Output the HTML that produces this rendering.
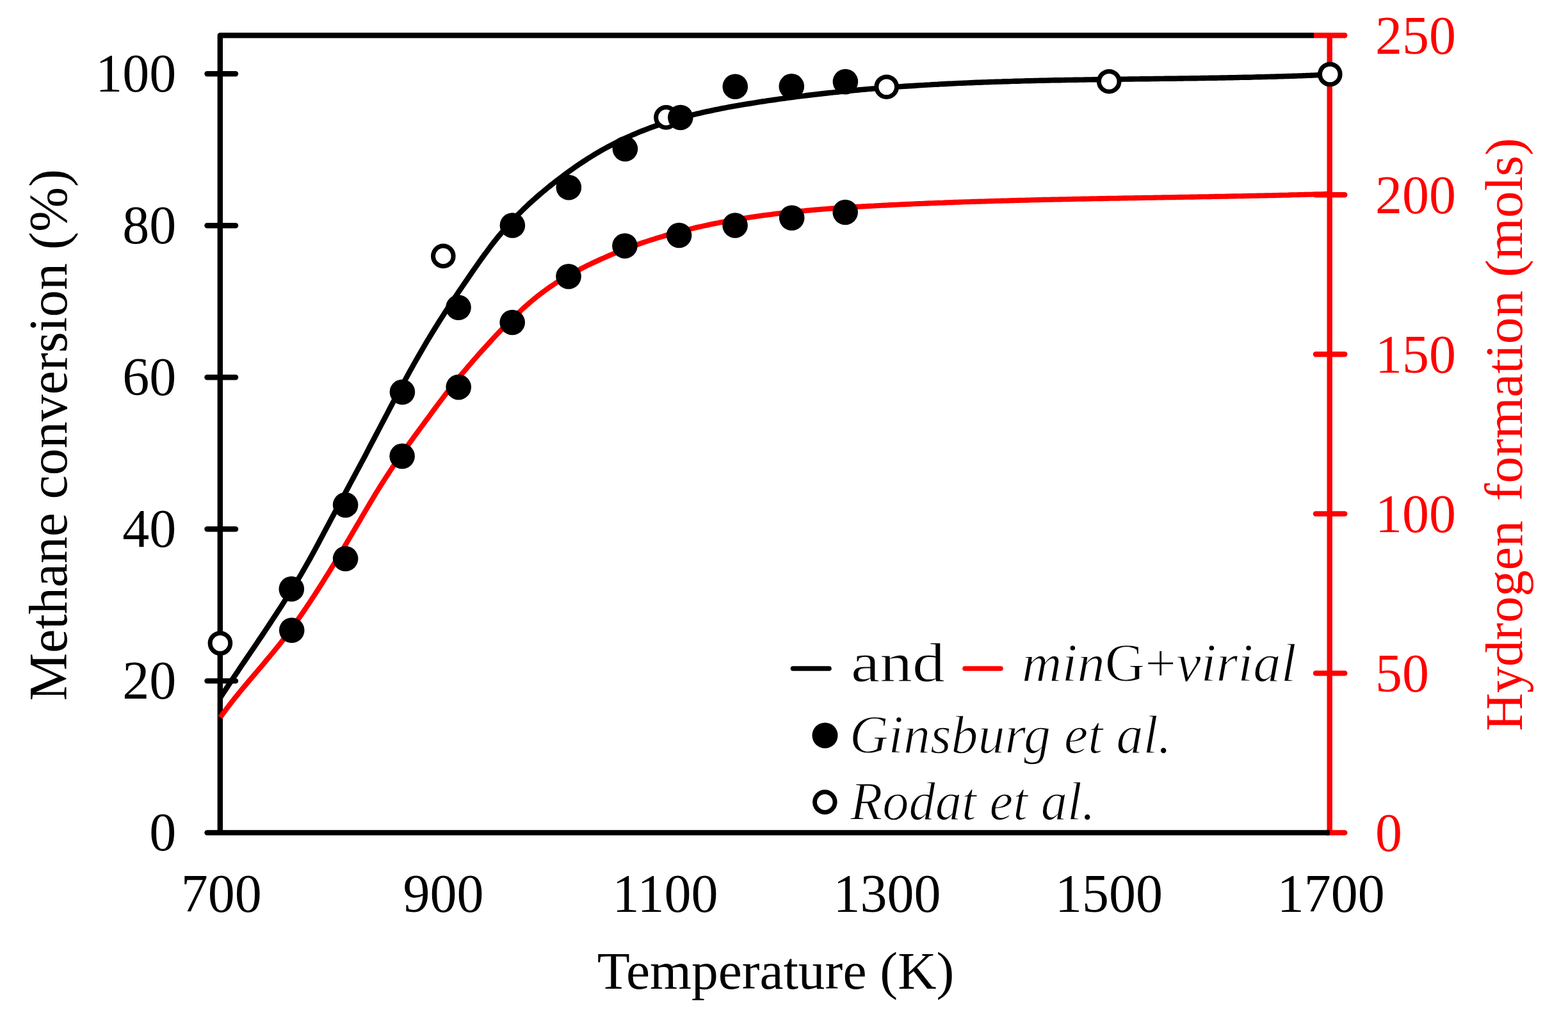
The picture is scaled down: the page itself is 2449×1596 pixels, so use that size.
<!DOCTYPE html>
<html><head><meta charset="utf-8"><title>Methane conversion and hydrogen formation</title>
<style>
html,body{margin:0;padding:0;background:#fff;overflow:hidden;width:2449px;height:1596px;}
svg{display:block;}
text{font-family:"Liberation Serif","Times New Roman",serif;}
.it{font-style:italic;}
</style></head><body>
<svg width="2449" height="1596" viewBox="0 0 2449 1596">
<rect width="2449" height="1596" fill="#fff"/>
<g fill="none" stroke="#000" stroke-width="8.4">
<path d="M2052 55.3 L343.8 55.3 L343.8 1300.4" stroke-linejoin="round"/>
<line x1="323.5" y1="1063.4" x2="368" y2="1063.4" stroke-linecap="round"/>
<line x1="323.5" y1="826.3" x2="368" y2="826.3" stroke-linecap="round"/>
<line x1="323.5" y1="589.3" x2="368" y2="589.3" stroke-linecap="round"/>
<line x1="323.5" y1="352.2" x2="368" y2="352.2" stroke-linecap="round"/>
<line x1="323.5" y1="115.2" x2="368" y2="115.2" stroke-linecap="round"/>
</g>
<g fill="none" stroke="#f00" stroke-width="8.4">
<line x1="2076.7" y1="51.8" x2="2076.7" y2="1300.4"/>
<line x1="2055" y1="1051.4" x2="2100.3" y2="1051.4" stroke-linecap="round"/>
<line x1="2055" y1="802.4" x2="2100.3" y2="802.4" stroke-linecap="round"/>
<line x1="2055" y1="553.3" x2="2100.3" y2="553.3" stroke-linecap="round"/>
<line x1="2055" y1="304.3" x2="2100.3" y2="304.3" stroke-linecap="round"/>
<path d="M2052 55.3 L2100.3 55.3" stroke-linecap="butt"/>
<circle cx="2100.3" cy="55.3" r="4.20" fill="#f00" stroke="none"/>
<line x1="2076.7" y1="1300.4" x2="2100.3" y2="1300.4" stroke-linecap="round"/>
</g>
<path d="M323.5 1300.4 L2072.5 1300.4" stroke="#000" stroke-width="8.4" stroke-linecap="round"/>
<line x1="2071.7" y1="1300.4" x2="2076.7" y2="1300.4" stroke="#000" stroke-width="8.4"/>
<path d="M344.0 1089.7 L348.3 1083.0 L352.7 1076.4 L357.0 1069.8 L361.4 1063.2 L365.7 1056.7 L370.1 1050.3 L374.4 1043.8 L378.7 1037.4 L383.1 1031.0 L387.4 1024.6 L391.8 1018.2 L396.1 1011.8 L400.5 1005.4 L404.8 998.9 L409.2 992.5 L413.5 986.0 L417.8 979.5 L422.2 972.9 L426.5 966.3 L430.9 959.7 L435.2 953.0 L439.6 946.3 L443.9 939.6 L448.2 932.7 L452.6 925.9 L456.9 918.9 L461.3 911.9 L465.6 904.7 L470.0 897.4 L474.3 889.9 L478.6 882.3 L483.0 874.6 L487.3 866.7 L491.7 858.7 L496.0 850.7 L500.4 842.6 L504.7 834.4 L509.0 826.3 L513.4 818.1 L517.7 809.9 L522.1 801.7 L526.4 793.6 L530.8 785.5 L535.1 777.4 L539.5 769.3 L543.8 761.2 L548.1 753.1 L552.5 745.0 L556.8 736.9 L561.2 728.7 L565.5 720.6 L569.9 712.4 L574.2 704.1 L578.5 695.8 L582.9 687.5 L587.2 679.2 L591.6 670.9 L595.9 662.6 L600.3 654.3 L604.6 646.1 L608.9 637.8 L613.3 629.6 L617.6 621.4 L622.0 613.3 L626.3 605.2 L630.7 597.2 L635.0 589.2 L639.3 581.3 L643.7 573.5 L648.0 565.8 L652.4 558.1 L656.7 550.6 L661.1 543.1 L665.4 535.7 L669.8 528.4 L674.1 521.3 L678.4 514.2 L682.8 507.2 L687.1 500.3 L691.5 493.5 L695.8 486.8 L700.2 480.1 L704.5 473.5 L708.8 467.0 L713.2 460.5 L717.5 454.1 L721.9 447.7 L726.2 441.3 L730.6 435.0 L734.9 428.7 L739.2 422.4 L743.6 416.1 L747.9 409.9 L752.3 403.8 L756.6 397.8 L761.0 391.9 L765.3 386.1 L769.6 380.4 L774.0 374.8 L778.3 369.5 L782.7 364.2 L787.0 359.1 L791.4 354.2 L795.7 349.3 L800.1 344.6 L804.4 340.0 L808.7 335.5 L813.1 331.2 L817.4 326.9 L821.8 322.7 L826.1 318.7 L830.5 314.7 L834.8 310.8 L839.1 307.0 L843.5 303.2 L847.8 299.6 L852.2 296.0 L856.5 292.4 L860.9 288.9 L865.2 285.5 L869.5 282.1 L873.9 278.8 L878.2 275.5 L882.6 272.2 L886.9 269.0 L891.3 265.9 L895.6 262.8 L899.9 259.8 L904.3 256.8 L908.6 253.9 L913.0 251.1 L917.3 248.3 L921.7 245.5 L926.0 242.9 L930.4 240.2 L934.7 237.7 L939.0 235.2 L943.4 232.7 L947.7 230.3 L952.1 228.0 L956.4 225.7 L960.8 223.5 L965.1 221.3 L969.4 219.2 L973.8 217.1 L978.1 215.1 L982.5 213.2 L986.8 211.2 L991.2 209.4 L995.5 207.5 L999.8 205.7 L1004.2 204.0 L1008.5 202.3 L1012.9 200.6 L1017.2 199.0 L1021.6 197.5 L1025.9 195.9 L1030.3 194.4 L1034.6 193.0 L1038.9 191.6 L1043.3 190.2 L1047.6 188.8 L1052.0 187.5 L1056.3 186.3 L1060.7 185.0 L1065.0 183.8 L1069.3 182.6 L1073.7 181.5 L1078.0 180.4 L1082.4 179.3 L1086.7 178.2 L1091.1 177.2 L1095.4 176.1 L1099.7 175.2 L1104.1 174.2 L1108.4 173.3 L1112.8 172.3 L1117.1 171.4 L1121.5 170.6 L1125.8 169.7 L1130.1 168.9 L1134.5 168.0 L1138.8 167.2 L1143.2 166.4 L1147.5 165.7 L1151.9 164.9 L1156.2 164.2 L1160.6 163.4 L1164.9 162.7 L1169.2 162.0 L1173.6 161.3 L1177.9 160.6 L1182.3 159.9 L1186.6 159.2 L1191.0 158.5 L1195.3 157.9 L1199.6 157.2 L1204.0 156.6 L1208.3 156.0 L1212.7 155.3 L1217.0 154.7 L1221.4 154.1 L1225.7 153.5 L1230.0 152.9 L1234.4 152.3 L1238.7 151.8 L1243.1 151.2 L1247.4 150.6 L1251.8 150.1 L1256.1 149.6 L1260.4 149.0 L1264.8 148.5 L1269.1 148.0 L1273.5 147.5 L1277.8 147.0 L1282.2 146.5 L1286.5 146.0 L1290.9 145.5 L1295.2 145.0 L1299.5 144.6 L1303.9 144.1 L1308.2 143.7 L1312.6 143.2 L1316.9 142.8 L1321.3 142.3 L1325.6 141.9 L1329.9 141.5 L1334.3 141.1 L1338.6 140.7 L1343.0 140.3 L1347.3 139.9 L1351.7 139.5 L1356.0 139.1 L1360.3 138.8 L1364.7 138.4 L1369.0 138.1 L1373.4 137.7 L1377.7 137.4 L1382.1 137.0 L1386.4 136.7 L1390.7 136.4 L1395.1 136.0 L1399.4 135.7 L1403.8 135.4 L1408.1 135.1 L1412.5 134.8 L1416.8 134.5 L1421.2 134.2 L1425.5 134.0 L1429.8 133.7 L1434.2 133.4 L1438.5 133.1 L1442.9 132.9 L1447.2 132.6 L1451.6 132.4 L1455.9 132.1 L1460.2 131.9 L1464.6 131.7 L1468.9 131.4 L1473.3 131.2 L1477.6 131.0 L1482.0 130.8 L1486.3 130.6 L1490.6 130.4 L1495.0 130.1 L1499.3 129.9 L1503.7 129.8 L1508.0 129.6 L1512.4 129.4 L1516.7 129.2 L1521.1 129.0 L1525.4 128.8 L1529.7 128.7 L1534.1 128.5 L1538.4 128.4 L1542.8 128.2 L1547.1 128.0 L1551.5 127.9 L1555.8 127.7 L1560.1 127.6 L1564.5 127.5 L1568.8 127.3 L1573.2 127.2 L1577.5 127.1 L1581.9 126.9 L1586.2 126.8 L1590.5 126.7 L1594.9 126.6 L1599.2 126.4 L1603.6 126.3 L1607.9 126.2 L1612.3 126.1 L1616.6 126.0 L1620.9 125.9 L1625.3 125.8 L1629.6 125.7 L1634.0 125.6 L1638.3 125.5 L1642.7 125.4 L1647.0 125.3 L1651.4 125.3 L1655.7 125.2 L1660.0 125.1 L1664.4 125.0 L1668.7 124.9 L1673.1 124.9 L1677.4 124.8 L1681.8 124.7 L1686.1 124.6 L1690.4 124.6 L1694.8 124.5 L1699.1 124.4 L1703.5 124.4 L1707.8 124.3 L1712.2 124.2 L1716.5 124.2 L1720.8 124.1 L1725.2 124.0 L1729.5 124.0 L1733.9 123.9 L1738.2 123.9 L1742.6 123.8 L1746.9 123.8 L1751.2 123.7 L1755.6 123.6 L1759.9 123.6 L1764.3 123.5 L1768.6 123.5 L1773.0 123.4 L1777.3 123.4 L1781.7 123.3 L1786.0 123.3 L1790.3 123.2 L1794.7 123.2 L1799.0 123.1 L1803.4 123.0 L1807.7 123.0 L1812.1 122.9 L1816.4 122.9 L1820.7 122.8 L1825.1 122.8 L1829.4 122.7 L1833.8 122.7 L1838.1 122.6 L1842.5 122.5 L1846.8 122.5 L1851.1 122.4 L1855.5 122.4 L1859.8 122.3 L1864.2 122.2 L1868.5 122.2 L1872.9 122.1 L1877.2 122.0 L1881.5 122.0 L1885.9 121.9 L1890.2 121.8 L1894.6 121.8 L1898.9 121.7 L1903.3 121.6 L1907.6 121.5 L1912.0 121.5 L1916.3 121.4 L1920.6 121.3 L1925.0 121.2 L1929.3 121.1 L1933.7 121.0 L1938.0 120.9 L1942.4 120.8 L1946.7 120.8 L1951.0 120.7 L1955.4 120.6 L1959.7 120.4 L1964.1 120.3 L1968.4 120.2 L1972.8 120.1 L1977.1 120.0 L1981.4 119.9 L1985.8 119.8 L1990.1 119.7 L1994.5 119.5 L1998.8 119.4 L2003.2 119.3 L2007.5 119.1 L2011.8 119.0 L2016.2 118.9 L2020.5 118.7 L2024.9 118.6 L2029.2 118.4 L2033.6 118.3 L2037.9 118.1 L2042.3 117.9 L2046.6 117.8 L2050.9 117.6 L2055.3 117.4 L2059.6 117.2 L2064.0 117.1 L2068.3 116.9 L2072.7 116.7 L2077.0 116.5" fill="none" stroke="#000" stroke-width="8.4" stroke-linejoin="round"/>
<path d="M344.0 1120.3 L348.3 1114.3 L352.7 1108.5 L357.0 1102.7 L361.4 1097.1 L365.7 1091.6 L370.1 1086.1 L374.4 1080.8 L378.7 1075.5 L383.1 1070.3 L387.4 1065.1 L391.8 1060.0 L396.1 1054.9 L400.5 1049.8 L404.8 1044.7 L409.2 1039.6 L413.5 1034.4 L417.8 1029.2 L422.2 1024.0 L426.5 1018.7 L430.9 1013.4 L435.2 1008.0 L439.6 1002.4 L443.9 996.8 L448.2 991.1 L452.6 985.2 L456.9 979.3 L461.3 973.2 L465.6 967.1 L470.0 960.9 L474.3 954.6 L478.6 948.2 L483.0 941.7 L487.3 935.1 L491.7 928.5 L496.0 921.8 L500.4 915.0 L504.7 908.2 L509.0 901.2 L513.4 894.3 L517.7 887.2 L522.1 880.1 L526.4 873.0 L530.8 865.7 L535.1 858.5 L539.5 851.2 L543.8 843.8 L548.1 836.5 L552.5 829.0 L556.8 821.6 L561.2 814.2 L565.5 806.7 L569.9 799.3 L574.2 792.0 L578.5 784.6 L582.9 777.4 L587.2 770.2 L591.6 763.2 L595.9 756.2 L600.3 749.4 L604.6 742.7 L608.9 736.1 L613.3 729.6 L617.6 723.2 L622.0 716.9 L626.3 710.7 L630.7 704.5 L635.0 698.4 L639.3 692.4 L643.7 686.4 L648.0 680.4 L652.4 674.5 L656.7 668.5 L661.1 662.6 L665.4 656.7 L669.8 650.8 L674.1 644.8 L678.4 639.0 L682.8 633.1 L687.1 627.3 L691.5 621.6 L695.8 615.9 L700.2 610.3 L704.5 604.8 L708.8 599.3 L713.2 594.0 L717.5 588.7 L721.9 583.4 L726.2 578.3 L730.6 573.1 L734.9 568.1 L739.2 563.1 L743.6 558.1 L747.9 553.2 L752.3 548.3 L756.6 543.5 L761.0 538.7 L765.3 534.0 L769.6 529.3 L774.0 524.6 L778.3 520.0 L782.7 515.4 L787.0 511.0 L791.4 506.5 L795.7 502.1 L800.1 497.8 L804.4 493.6 L808.7 489.5 L813.1 485.4 L817.4 481.4 L821.8 477.5 L826.1 473.7 L830.5 470.0 L834.8 466.4 L839.1 462.9 L843.5 459.5 L847.8 456.2 L852.2 453.0 L856.5 449.9 L860.9 446.9 L865.2 444.0 L869.5 441.2 L873.9 438.4 L878.2 435.8 L882.6 433.2 L886.9 430.7 L891.3 428.3 L895.6 425.9 L899.9 423.6 L904.3 421.3 L908.6 419.1 L913.0 416.9 L917.3 414.7 L921.7 412.6 L926.0 410.5 L930.4 408.5 L934.7 406.5 L939.0 404.5 L943.4 402.6 L947.7 400.7 L952.1 398.8 L956.4 397.0 L960.8 395.2 L965.1 393.4 L969.4 391.7 L973.8 390.0 L978.1 388.3 L982.5 386.7 L986.8 385.1 L991.2 383.5 L995.5 382.0 L999.8 380.4 L1004.2 378.9 L1008.5 377.5 L1012.9 376.0 L1017.2 374.6 L1021.6 373.3 L1025.9 371.9 L1030.3 370.6 L1034.6 369.3 L1038.9 368.0 L1043.3 366.7 L1047.6 365.5 L1052.0 364.3 L1056.3 363.1 L1060.7 362.0 L1065.0 360.9 L1069.3 359.7 L1073.7 358.7 L1078.0 357.6 L1082.4 356.6 L1086.7 355.5 L1091.1 354.5 L1095.4 353.6 L1099.7 352.6 L1104.1 351.7 L1108.4 350.7 L1112.8 349.8 L1117.1 349.0 L1121.5 348.1 L1125.8 347.2 L1130.1 346.4 L1134.5 345.6 L1138.8 344.8 L1143.2 344.0 L1147.5 343.3 L1151.9 342.5 L1156.2 341.8 L1160.6 341.1 L1164.9 340.4 L1169.2 339.7 L1173.6 339.1 L1177.9 338.4 L1182.3 337.8 L1186.6 337.2 L1191.0 336.6 L1195.3 336.0 L1199.6 335.4 L1204.0 334.9 L1208.3 334.3 L1212.7 333.8 L1217.0 333.3 L1221.4 332.8 L1225.7 332.3 L1230.0 331.8 L1234.4 331.3 L1238.7 330.9 L1243.1 330.4 L1247.4 330.0 L1251.8 329.6 L1256.1 329.2 L1260.4 328.7 L1264.8 328.4 L1269.1 328.0 L1273.5 327.6 L1277.8 327.2 L1282.2 326.9 L1286.5 326.5 L1290.9 326.2 L1295.2 325.9 L1299.5 325.5 L1303.9 325.2 L1308.2 324.9 L1312.6 324.6 L1316.9 324.3 L1321.3 324.0 L1325.6 323.8 L1329.9 323.5 L1334.3 323.2 L1338.6 322.9 L1343.0 322.7 L1347.3 322.4 L1351.7 322.2 L1356.0 321.9 L1360.3 321.7 L1364.7 321.5 L1369.0 321.2 L1373.4 321.0 L1377.7 320.8 L1382.1 320.6 L1386.4 320.4 L1390.7 320.1 L1395.1 319.9 L1399.4 319.7 L1403.8 319.5 L1408.1 319.3 L1412.5 319.1 L1416.8 318.9 L1421.2 318.7 L1425.5 318.5 L1429.8 318.3 L1434.2 318.1 L1438.5 318.0 L1442.9 317.8 L1447.2 317.6 L1451.6 317.4 L1455.9 317.3 L1460.2 317.1 L1464.6 316.9 L1468.9 316.7 L1473.3 316.6 L1477.6 316.4 L1482.0 316.3 L1486.3 316.1 L1490.6 315.9 L1495.0 315.8 L1499.3 315.6 L1503.7 315.5 L1508.0 315.3 L1512.4 315.2 L1516.7 315.0 L1521.1 314.9 L1525.4 314.8 L1529.7 314.6 L1534.1 314.5 L1538.4 314.4 L1542.8 314.2 L1547.1 314.1 L1551.5 314.0 L1555.8 313.8 L1560.1 313.7 L1564.5 313.6 L1568.8 313.5 L1573.2 313.4 L1577.5 313.2 L1581.9 313.1 L1586.2 313.0 L1590.5 312.9 L1594.9 312.8 L1599.2 312.7 L1603.6 312.6 L1607.9 312.5 L1612.3 312.3 L1616.6 312.2 L1620.9 312.1 L1625.3 312.0 L1629.6 311.9 L1634.0 311.8 L1638.3 311.7 L1642.7 311.6 L1647.0 311.5 L1651.4 311.5 L1655.7 311.4 L1660.0 311.3 L1664.4 311.2 L1668.7 311.1 L1673.1 311.0 L1677.4 310.9 L1681.8 310.8 L1686.1 310.7 L1690.4 310.6 L1694.8 310.6 L1699.1 310.5 L1703.5 310.4 L1707.8 310.3 L1712.2 310.2 L1716.5 310.1 L1720.8 310.1 L1725.2 310.0 L1729.5 309.9 L1733.9 309.8 L1738.2 309.7 L1742.6 309.7 L1746.9 309.6 L1751.2 309.5 L1755.6 309.4 L1759.9 309.4 L1764.3 309.3 L1768.6 309.2 L1773.0 309.1 L1777.3 309.1 L1781.7 309.0 L1786.0 308.9 L1790.3 308.8 L1794.7 308.8 L1799.0 308.7 L1803.4 308.6 L1807.7 308.5 L1812.1 308.5 L1816.4 308.4 L1820.7 308.3 L1825.1 308.2 L1829.4 308.2 L1833.8 308.1 L1838.1 308.0 L1842.5 307.9 L1846.8 307.9 L1851.1 307.8 L1855.5 307.7 L1859.8 307.6 L1864.2 307.6 L1868.5 307.5 L1872.9 307.4 L1877.2 307.3 L1881.5 307.2 L1885.9 307.2 L1890.2 307.1 L1894.6 307.0 L1898.9 306.9 L1903.3 306.9 L1907.6 306.8 L1912.0 306.7 L1916.3 306.6 L1920.6 306.5 L1925.0 306.4 L1929.3 306.4 L1933.7 306.3 L1938.0 306.2 L1942.4 306.1 L1946.7 306.0 L1951.0 305.9 L1955.4 305.8 L1959.7 305.7 L1964.1 305.6 L1968.4 305.5 L1972.8 305.5 L1977.1 305.4 L1981.4 305.3 L1985.8 305.2 L1990.1 305.1 L1994.5 305.0 L1998.8 304.9 L2003.2 304.8 L2007.5 304.7 L2011.8 304.6 L2016.2 304.4 L2020.5 304.3 L2024.9 304.2 L2029.2 304.1 L2033.6 304.0 L2037.9 303.9 L2042.3 303.8 L2046.6 303.7 L2050.9 303.5 L2055.3 303.4 L2059.6 303.3 L2064.0 303.2 L2068.3 303.0 L2072.7 302.9 L2077.0 302.8" fill="none" stroke="#f00" stroke-width="8.1" stroke-linejoin="round"/>
<g fill="#fff" stroke="#000" stroke-width="7.0">
<circle cx="343.9" cy="1004.5" r="15.8"/>
<circle cx="692.3" cy="399.9" r="15.8"/>
<circle cx="1040.4" cy="183.4" r="15.8"/>
<circle cx="1384.7" cy="135.7" r="15.8"/>
<circle cx="1732.2" cy="127.2" r="15.8"/>
<circle cx="2077.3" cy="116.0" r="15.8"/>
</g>
<g fill="#000">
<circle cx="455.3" cy="919.8" r="19.8"/>
<circle cx="539.6" cy="788.6" r="19.8"/>
<circle cx="628.4" cy="612.2" r="19.8"/>
<circle cx="716.0" cy="480.2" r="19.8"/>
<circle cx="800.4" cy="352.0" r="19.8"/>
<circle cx="888.3" cy="292.7" r="19.8"/>
<circle cx="976.4" cy="232.5" r="19.8"/>
<circle cx="1062.8" cy="183.5" r="19.8"/>
<circle cx="1148.3" cy="135.3" r="19.8"/>
<circle cx="1236.3" cy="134.9" r="19.8"/>
<circle cx="1320.4" cy="127.6" r="19.8"/>
<circle cx="455.7" cy="984.3" r="19.8"/>
<circle cx="539.6" cy="872.5" r="19.8"/>
<circle cx="628.1" cy="712.4" r="19.8"/>
<circle cx="716.2" cy="604.6" r="19.8"/>
<circle cx="800.2" cy="503.5" r="19.8"/>
<circle cx="888.0" cy="431.7" r="19.8"/>
<circle cx="975.9" cy="384.0" r="19.8"/>
<circle cx="1060.6" cy="367.5" r="19.8"/>
<circle cx="1148.1" cy="352.0" r="19.8"/>
<circle cx="1236.7" cy="340.2" r="19.8"/>
<circle cx="1320.2" cy="331.5" r="19.8"/>
</g>
<g font-size="84" text-anchor="end" fill="#000">
<text x="275.2" y="1327.7">0</text>
<text x="275.2" y="1090.7">20</text>
<text x="275.2" y="853.6">40</text>
<text x="275.2" y="616.6">60</text>
<text x="275.2" y="379.5">80</text>
<text x="275.2" y="142.5">100</text>
</g>
<g font-size="84" fill="#f00">
<text x="2148" y="1328.7">0</text>
<text x="2148" y="1079.7">50</text>
<text x="2148" y="830.7">100</text>
<text x="2148" y="581.6">150</text>
<text x="2148" y="332.6">200</text>
<text x="2148" y="83.6">250</text>
</g>
<g font-size="84" text-anchor="middle" fill="#000">
<text x="345.8" y="1423.6">700</text>
<text x="692.4" y="1423.6">900</text>
<text x="1039.0" y="1423.6">1100</text>
<text x="1385.5" y="1423.6">1300</text>
<text x="1732.1" y="1423.6">1500</text>
<text x="2078.7" y="1423.6">1700</text>
</g>
<text x="1211.5" y="1544" font-size="83.5" text-anchor="middle">Temperature (K)</text>
<text transform="translate(103.5 1094.5) rotate(-90)" font-size="84">Methane conversion (%)</text>
<g fill="#f00" font-size="83"><text transform="translate(2377 1141.4) rotate(-90)" textLength="328.5" lengthAdjust="spacingAndGlyphs">Hydrogen</text><text transform="translate(2377 782.6) rotate(-90)" textLength="567.4" lengthAdjust="spacingAndGlyphs">formation (mols)</text></g>
<line x1="1238.5" y1="1044" x2="1295" y2="1044" stroke="#000" stroke-width="7.6" stroke-linecap="round"/>
<line x1="1507" y1="1044" x2="1563" y2="1044" stroke="#f00" stroke-width="7.6" stroke-linecap="round"/>
<text x="1329" y="1064" font-size="87" textLength="147" lengthAdjust="spacingAndGlyphs" stroke="#fff" stroke-width="1.0">and</text>
<text x="1596" y="1063.5" font-size="85.5" textLength="428.7" lengthAdjust="spacingAndGlyphs" stroke="#fff" stroke-width="1.4"><tspan class="it">min</tspan>G+<tspan class="it">virial</tspan></text>
<circle cx="1288.5" cy="1148.5" r="20"/>
<circle cx="1288.3" cy="1252.6" r="15.8" fill="#fff" stroke="#000" stroke-width="7.0"/>
<text x="1327" y="1176" font-size="84" class="it" textLength="502.8" lengthAdjust="spacingAndGlyphs" stroke="#fff" stroke-width="1.4">Ginsburg et al.</text>
<text x="1328" y="1279.6" font-size="84" class="it" textLength="382.5" lengthAdjust="spacingAndGlyphs" stroke="#fff" stroke-width="1.4">Rodat et al.</text>
</svg>
</body></html>
